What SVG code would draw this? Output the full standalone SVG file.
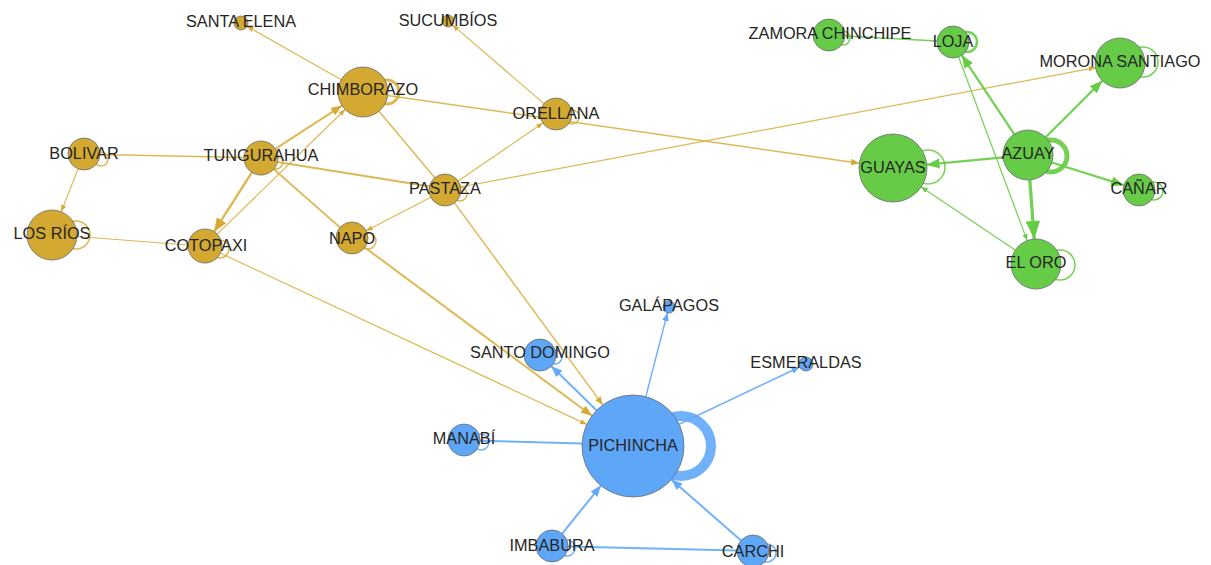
<svg xmlns="http://www.w3.org/2000/svg" width="1211" height="565" viewBox="0 0 1211 565">
<style>
.e{fill:none;stroke-linecap:butt}
.g{stroke:#D8AC38;stroke-opacity:.85}
.gr{stroke:#66CC44;stroke-opacity:.9}
.b{stroke:#62A8F8;stroke-opacity:.9}
.ag{marker-end:url(#mg)}
.agr{marker-end:url(#mgr)}
.ab{marker-end:url(#mb)}
.loop{fill:none}
.ng{fill:#D3A932;stroke:#6b6b6b;stroke-width:.8}
.ngr{fill:#66CC47;stroke:#6b6b6b;stroke-width:.8}
.nb{fill:#5EA6F8;stroke:#6b6b6b;stroke-width:.8}
text{font-family:"Liberation Sans",Arial,sans-serif;font-size:16.3px;fill:#262626;text-anchor:middle}
</style>
<defs>
<marker id="mg" viewBox="0 0 10 8" refX="10" refY="4" markerWidth="5.5" markerHeight="4.4" orient="auto"><path d="M0,0L10,4L0,8z" fill="#D6AA35"/></marker>
<marker id="mgr" viewBox="0 0 10 8" refX="10" refY="4" markerWidth="5.5" markerHeight="4.4" orient="auto"><path d="M0,0L10,4L0,8z" fill="#66CC44"/></marker>
<marker id="mb" viewBox="0 0 10 8" refX="10" refY="4" markerWidth="5.5" markerHeight="4.4" orient="auto"><path d="M0,0L10,4L0,8z" fill="#62A8F8"/></marker>
</defs>
<rect width="1211" height="565" fill="#fff"/>
<g id="connectors">
<line class="e g ag" x1="341.3" y1="79.7" x2="247.1" y2="26.4" stroke-width="1.2"/>
<line class="e g ag" x1="543.9" y1="103.6" x2="452.5" y2="24.9" stroke-width="1.2"/>
<line class="e g ag" x1="387.8" y1="95.5" x2="859.3" y2="163.2" stroke-width="1.5"/>
<line class="e g ag" x1="460.7" y1="187" x2="1095.4" y2="67.6" stroke-width="1.2"/>
<line class="e g ag" x1="458.2" y1="181" x2="542.8" y2="123" stroke-width="1.2"/>
<line class="e g" x1="379" y1="111.2" x2="434.7" y2="177.7" stroke-width="1.5"/>
<line class="e g ag" x1="275.3" y1="148.8" x2="342" y2="105.6" stroke-width="2"/>
<line class="e g ag" x1="217.2" y1="234.1" x2="345.1" y2="109.5" stroke-width="1.2"/>
<line class="e g ag" x1="251.9" y1="172.3" x2="214.1" y2="231.7" stroke-width="2.5"/>
<line class="e g" x1="100" y1="154.4" x2="244" y2="157.6" stroke-width="1.5"/>
<line class="e g ag" x1="78.1" y1="168.9" x2="61.2" y2="211.7" stroke-width="1.2"/>
<line class="e g" x1="77" y1="236.5" x2="188" y2="245" stroke-width="1.2"/>
<line class="e g" x1="277.5" y1="162" x2="430" y2="186.5" stroke-width="1.8"/>
<line class="e g" x1="273.8" y1="169.2" x2="340" y2="227.4" stroke-width="1.8"/>
<line class="e g ag" x1="364.9" y1="247.5" x2="592" y2="415.7" stroke-width="2"/>
<line class="e g ag" x1="430.8" y1="197.3" x2="366.2" y2="230.7" stroke-width="1.2"/>
<line class="e g ag" x1="454.5" y1="202.9" x2="602.8" y2="404.9" stroke-width="1.5"/>
<line class="e g ag" x1="220.4" y1="253.2" x2="586.8" y2="424.4" stroke-width="1.2"/>
<line class="e gr" x1="845" y1="35.9" x2="937" y2="41.1" stroke-width="1.5"/>
<line class="e gr agr" x1="1014.2" y1="134.2" x2="961.8" y2="55.3" stroke-width="2.3"/>
<line class="e gr agr" x1="958.6" y1="57" x2="1027.2" y2="240.6" stroke-width="1.2"/>
<line class="e gr agr" x1="1045.7" y1="137.3" x2="1102.3" y2="80.7" stroke-width="2.3"/>
<line class="e gr agr" x1="1003.1" y1="157.4" x2="926.8" y2="164.7" stroke-width="2.3"/>
<line class="e gr agr" x1="1051.8" y1="162.5" x2="1123.7" y2="185.2" stroke-width="2.3"/>
<line class="e gr agr" x1="1029.8" y1="179.9" x2="1034.2" y2="239.1" stroke-width="3.3"/>
<line class="e gr agr" x1="1015.2" y1="250" x2="921.2" y2="186.9" stroke-width="1.2"/>
<line class="e b ab" x1="645.8" y1="396.6" x2="667.5" y2="312.8" stroke-width="1.5"/>
<line class="e b ab" x1="679.1" y1="424.2" x2="799.7" y2="367" stroke-width="1.5"/>
<line class="e b ab" x1="596.5" y1="410.3" x2="551.4" y2="366.2" stroke-width="2"/>
<line class="e b" x1="480" y1="440.8" x2="582" y2="443.5" stroke-width="2"/>
<line class="e b ab" x1="562.1" y1="533.6" x2="600.9" y2="485.6" stroke-width="2"/>
<line class="e b ab" x1="741" y1="540.5" x2="671.4" y2="479.6" stroke-width="2"/>
<line class="e b" x1="568" y1="546.4" x2="737" y2="550.6" stroke-width="2"/>
</g>
<g id="loops">
<circle class="loop g" cx="387" cy="92" r="12" stroke-width="3"/>
<circle class="loop g" cx="101" cy="159" r="7" stroke-width="1.5"/>
<circle class="loop g" cx="76" cy="235" r="14" stroke-width="1.5"/>
<circle class="loop g" cx="220" cy="249" r="9" stroke-width="1.5"/>
<circle class="loop g" cx="276" cy="162" r="7" stroke-width="1.5"/>
<circle class="loop g" cx="460" cy="194" r="7" stroke-width="1.5"/>
<circle class="loop g" cx="368" cy="241" r="8" stroke-width="1.5"/>
<circle class="loop g" cx="572" cy="117" r="7" stroke-width="1.5"/>
<circle class="loop gr" cx="843" cy="38" r="7" stroke-width="1.5"/>
<circle class="loop gr" cx="967" cy="42" r="10" stroke-width="2.5"/>
<circle class="loop gr" cx="1143" cy="62" r="15" stroke-width="1.5"/>
<circle class="loop gr" cx="928" cy="167" r="17" stroke-width="1.5"/>
<circle class="loop gr" cx="1051" cy="156" r="16" stroke-width="5"/>
<circle class="loop gr" cx="1154" cy="191" r="9" stroke-width="1.5"/>
<circle class="loop gr" cx="1060" cy="265" r="15" stroke-width="1.5"/>
<circle class="loop b" cx="681" cy="446" r="30" stroke-width="10"/>
<circle class="loop b" cx="555" cy="357" r="7" stroke-width="1.5"/>
<circle class="loop b" cx="481" cy="442" r="8" stroke-width="1.5"/>
<circle class="loop b" cx="567" cy="548" r="8" stroke-width="1.5"/>
<circle class="loop b" cx="767" cy="553" r="9" stroke-width="1.5"/>
</g>
<g id="n-santa-elena"><circle class="ng" cx="241" cy="23" r="7"/><text x="241" y="27">SANTA ELENA</text></g>
<g id="n-sucumbios"><circle class="ng" cx="448" cy="21" r="6"/><text x="448" y="26">SUCUMBÍOS</text></g>
<g id="n-chimborazo"><circle class="ng" cx="363" cy="92" r="25"/><text x="363" y="95">CHIMBORAZO</text></g>
<g id="n-orellana"><circle class="ng" cx="556" cy="114" r="16"/><text x="556" y="119">ORELLANA</text></g>
<g id="n-bolivar"><circle class="ng" cx="84" cy="154" r="16"/><text x="84" y="159">BOLIVAR</text></g>
<g id="n-tungurahua"><circle class="ng" cx="261" cy="158" r="17"/><text x="261" y="161">TUNGURAHUA</text></g>
<g id="n-pastaza"><circle class="ng" cx="445" cy="190" r="16"/><text x="445" y="194">PASTAZA</text></g>
<g id="n-los-rios"><circle class="ng" cx="52" cy="235" r="25"/><text x="52" y="239">LOS RÍOS</text></g>
<g id="n-cotopaxi"><circle class="ng" cx="205" cy="246" r="17"/><text x="206" y="251">COTOPAXI</text></g>
<g id="n-napo"><circle class="ng" cx="352" cy="238" r="16"/><text x="352" y="244">NAPO</text></g>
<g id="n-zamora"><circle class="ngr" cx="829" cy="35" r="16"/><text x="830" y="39">ZAMORA CHINCHIPE</text></g>
<g id="n-loja"><circle class="ngr" cx="953" cy="42" r="16"/><text x="953" y="47">LOJA</text></g>
<g id="n-morona"><circle class="ngr" cx="1120" cy="63" r="25"/><text x="1120" y="67">MORONA SANTIAGO</text></g>
<g id="n-guayas"><circle class="ngr" cx="893" cy="168" r="34"/><text x="893" y="173">GUAYAS</text></g>
<g id="n-azuay"><circle class="ngr" cx="1028" cy="155" r="25"/><text x="1028" y="159">AZUAY</text></g>
<g id="n-canar"><circle class="ngr" cx="1139" cy="190" r="16"/><text x="1139" y="194">CAÑAR</text></g>
<g id="n-el-oro"><circle class="ngr" cx="1036" cy="264" r="25"/><text x="1036" y="268">EL ORO</text></g>
<g id="n-galapagos"><circle class="nb" cx="669" cy="307" r="6"/><text x="669" y="311">GALÁPAGOS</text></g>
<g id="n-santo-domingo"><circle class="nb" cx="540" cy="355" r="16"/><text x="540" y="358">SANTO DOMINGO</text></g>
<g id="n-esmeraldas"><circle class="nb" cx="806" cy="364" r="7"/><text x="806" y="368">ESMERALDAS</text></g>
<g id="n-manabi"><circle class="nb" cx="464" cy="440" r="16"/><text x="464" y="444">MANABÍ</text></g>
<g id="n-pichincha"><circle class="nb" cx="633" cy="446" r="51"/><text x="633" y="451">PICHINCHA</text></g>
<g id="n-imbabura"><circle class="nb" cx="552" cy="546" r="16"/><text x="552" y="551">IMBABURA</text></g>
<g id="n-carchi"><circle class="nb" cx="753" cy="551" r="16"/><text x="753" y="557">CARCHI</text></g>
</svg>
